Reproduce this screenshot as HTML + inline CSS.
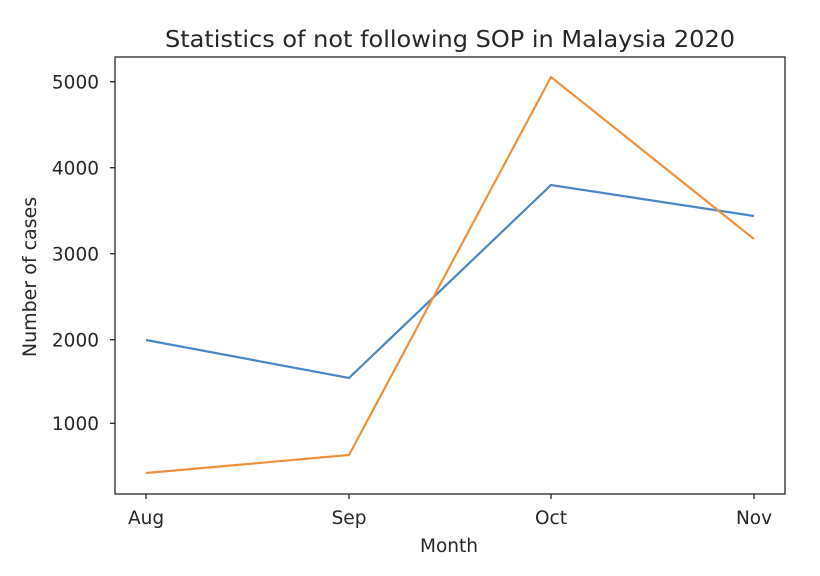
<!DOCTYPE html>
<html><head><meta charset="utf-8"><style>
body{margin:0;background:#fff;}
svg{display:block;font-family:"DejaVu Sans",sans-serif;fill:#262626;}
</style></head><body>
<svg width="820" height="576" viewBox="0 0 820 576">
<rect width="820" height="576" fill="#fff"/>
<text x="450" y="47" font-size="23.5" text-anchor="middle" textLength="570" lengthAdjust="spacingAndGlyphs">Statistics of not following SOP in Malaysia 2020</text>
<g stroke="#262626" stroke-width="1.3">
<line x1="110" x2="115" y1="81.7" y2="81.7"/>
<line x1="110" x2="115" y1="167.7" y2="167.7"/>
<line x1="110" x2="115" y1="253.7" y2="253.7"/>
<line x1="110" x2="115" y1="339.7" y2="339.7"/>
<line x1="110" x2="115" y1="423.3" y2="423.3"/>
<line x1="146" x2="146" y1="494" y2="499"/>
<line x1="349" x2="349" y1="494" y2="499"/>
<line x1="551" x2="551" y1="494" y2="499"/>
<line x1="754" x2="754" y1="494" y2="499"/>
</g>
<g font-size="18.5" text-anchor="end">
<text x="99" y="88.5">5000</text>
<text x="99" y="174.5">4000</text>
<text x="99" y="260.5">3000</text>
<text x="99" y="346.5">2000</text>
<text x="99" y="430">1000</text>
</g>
<g font-size="18.5" text-anchor="middle">
<text x="146" y="524">Aug</text>
<text x="349" y="524">Sep</text>
<text x="551" y="524">Oct</text>
<text x="754" y="524">Nov</text>
<text x="449" y="552">Month</text>
</g>
<text transform="translate(36,277) rotate(-90)" font-size="19" text-anchor="middle">Number of cases</text>
<polyline fill="none" stroke="#4a86c5" stroke-width="2.2" points="146,340 349,378 551,185 754,216"/>
<polyline fill="none" stroke="#f28f3c" stroke-width="2.2" points="146,473 349,455 551,77 754,239"/>
<rect x="115" y="57" width="670" height="437" fill="none" stroke="#262626" stroke-width="1.3"/>
</svg>
</body></html>
